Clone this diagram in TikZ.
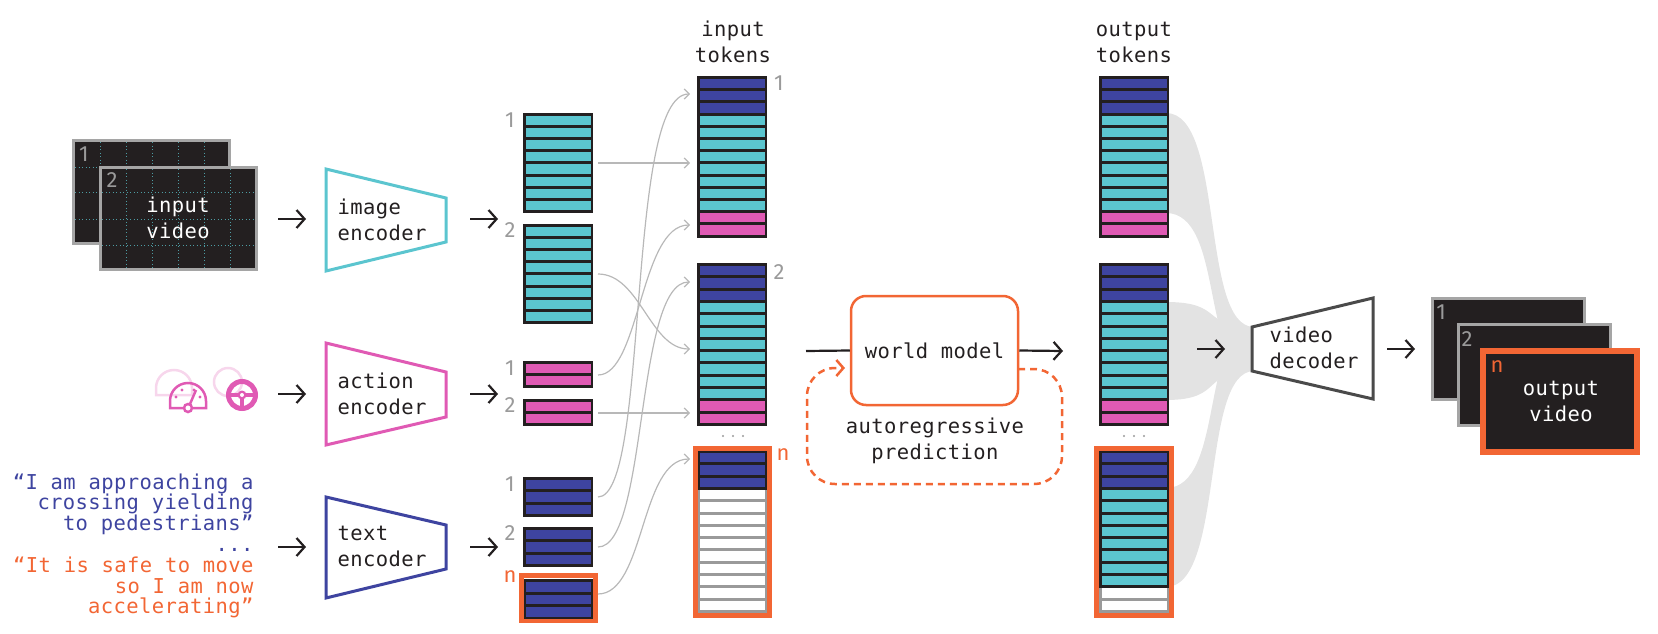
\documentclass[tikz,border=0pt]{standalone}
\usepackage{fontspec}
\usetikzlibrary{arrows.meta}
\newfontfamily\mono{DejaVu Sans Mono}[LetterSpace=2]
\newfontfamily\numf{Fira Sans}
\definecolor{dk}{HTML}{231F20}
\definecolor{tb}{HTML}{3E44A0}
\definecolor{tc}{HTML}{5BC5CF}
\definecolor{tp}{HTML}{E05AB4}
\definecolor{tw}{HTML}{FFFFFF}
\definecolor{og}{HTML}{F26634}
\definecolor{lg}{HTML}{9A9A9A}
\definecolor{rib}{HTML}{E3E3E3}
\definecolor{fr}{HTML}{A5A5A5}
\definecolor{dec}{HTML}{4A4A4A}
\newcommand\tokcol[6]{%
  \foreach \cc [count=\ii from 0] in {#6}{%
    \fill[#5] (#1,{#2+\ii*#4-1.5}) rectangle ({#1+#3},{#2+(\ii+1)*#4+1.5});
    \fill[\cc] ({#1+2.5},{#2+\ii*#4+1.5}) rectangle ({#1+#3-2.5},{#2+(\ii+1)*#4-1.5});
  }}
\begin{document}
\begin{tikzpicture}[x=1pt,y=-1pt,
  lab/.style={font=\mono\fontsize{20.5}{26}\selectfont, text=dk},
  num/.style={font=\numf\fontsize{22}{24}\selectfont, text=lg},
  blk/.style={-{Straight Barb[length=8pt,width=18pt]}, line width=2.2pt, draw=dk},
  gcon/.style={-{Straight Barb[length=5pt,width=10pt]}, line width=1.2pt, draw=lg!70},
  enc/.style={line width=3pt, fill=white, line join=miter},
  frm/.style={fill=dk, draw=fr, line width=3pt},
  grid/.style={tc!75!dk, dash pattern=on 1pt off 2.5pt, line width=1pt}]
\useasboundingbox (0,0) rectangle (1658,634);

% ---------- input video
\draw[frm] (73.5,140.5) rectangle (229.5,243.5);
\begin{scope}
\clip (75,142) rectangle (228,242);
\foreach \x in {100,126,152,178,204} \draw[grid] (\x,142) -- (\x,242);
\foreach \y in {167,192,219} \draw[grid] (75,\y) -- (228,\y);
\end{scope}
\node[num, text=lg] (v1) at (84,154) {1};
\draw[frm] (100.5,167.5) rectangle (256.5,269.5);
\begin{scope}
\clip (102,169) rectangle (255,268);
\foreach \x in {126,152,178,204,230} \draw[grid] (\x,169) -- (\x,268);
\foreach \y in {192,219,245} \draw[grid] (102,\y) -- (255,\y);
\end{scope}
\node[num] (v2) at (112,180) {2};
\node[lab, text=white, align=center] (iv) at (178,218) {input\\video};

% ---------- icons
\begin{scope}[tp!25, line width=2.5pt, shift={(-14,-13)}]
\draw (170,408) -- (170,401) arc(180:360:18) -- (206,408) -- cycle;
\draw (242,395) circle (14);
\end{scope}
\begin{scope}[tp, line width=2.5pt]
\draw (183,408) -- (170,408) -- (170,401) arc(180:360:18) -- (206,408) -- (193,408);
\draw (188,408) circle (4);
\draw (190,404) -- (196,390);
\fill (176,397) circle (1.6); \fill (182,390) circle (1.6); \fill (200,397) circle (1.6); \fill (194,390) circle (1.6);
\draw[line width=5pt] (242,395) circle (13.5);
\fill (242,395) circle (4.5);
\draw[line width=3.5pt] (229,395) -- (255,395);
\draw[line width=3.5pt] (242,395) -- (242,408);
\end{scope}
\fill[white] (242,395) circle (2);

% ---------- quote text
\node[font=\mono\fontsize{20.5}{20.8}\selectfont, align=right, anchor=east] (qt) at (257,546)
 {\textcolor{tb}{“I am approaching a}\\\textcolor{tb}{crossing yielding}\\\textcolor{tb}{to pedestrians”}\\\textcolor{tb}{...}\\
  \textcolor{og}{“It is safe to move}\\\textcolor{og}{so I am now}\\\textcolor{og}{accelerating”}};

% ---------- encoders
\draw[enc, draw=tc] (326,169) -- (446,198) -- (446,242) -- (326,271) -- cycle;
\node[lab, anchor=west, align=left] (ie) at (334,220) {image\\encoder};
\draw[enc, draw=tp] (326,343) -- (446,372) -- (446,417) -- (326,445) -- cycle;
\node[lab, anchor=west, align=left] (ae) at (334,394) {action\\encoder};
\draw[enc, draw=tb] (326,497) -- (446,525) -- (446,569) -- (326,598) -- cycle;
\node[lab, anchor=west, align=left] (te) at (334,546) {text\\encoder};

\coordinate (a1s) at (278,219); \coordinate (a1e) at (306,219);
\coordinate (a2s) at (278,394); \coordinate (a2e) at (306,394);
\coordinate (a3s) at (278,547); \coordinate (a3e) at (306,547);
\coordinate (b1s) at (470,219); \coordinate (b1e) at (498,219);
\coordinate (b2s) at (470,394); \coordinate (b2e) at (498,394);
\coordinate (b3s) at (470,547); \coordinate (b3e) at (498,547);
\foreach \s/\e in {a1s/a1e,a2s/a2e,a3s/a3e,b1s/b1e,b2s/b2e,b3s/b3e} \draw[blk] (\s) -- (\e);

% ---------- encoded tokens
\tokcol{523}{114.5}{70}{12.1}{dk}{tc,tc,tc,tc,tc,tc,tc,tc}
\tokcol{523}{225.5}{70}{12.1}{dk}{tc,tc,tc,tc,tc,tc,tc,tc}
\tokcol{523}{362.5}{70}{12}{dk}{tp,tp}
\tokcol{523}{400.5}{70}{12}{dk}{tp,tp}
\tokcol{523}{478.5}{70}{12.3}{dk}{tb,tb,tb}
\tokcol{523}{528.5}{70}{12.3}{dk}{tb,tb,tb}
\tokcol{523}{580.5}{70}{12.5}{dk}{tb,tb,tb}
\draw[og, line width=4.5pt] (521.5,575.5) rectangle (595.5,621);
\node[num] at (510,120) {1};
\node[num] at (510,230) {2};
\node[num] at (510,368) {1};
\node[num] at (510,405) {2};
\node[num] at (510,484) {1};
\node[num] at (510,533) {2};
\node[num, text=og] at (510,577) {n};

% ---------- input tokens
\node[lab, align=center] (it) at (733,42) {input\\tokens};
\tokcol{697}{77.5}{70}{12.2}{dk}{tb,tb,tb,tc,tc,tc,tc,tc,tc,tc,tc,tp,tp}
\tokcol{697}{264.5}{70}{12.3}{dk}{tb,tb,tb,tc,tc,tc,tc,tc,tc,tc,tc,tp,tp}
\tokcol{697}{451.5}{70}{12.3}{lg}{tb,tb,tb,tw,tw,tw,tw,tw,tw,tw,tw,tw,tw}
\tokcol{697}{451.5}{70}{12.3}{dk}{tb,tb,tb}
\draw[og, line width=4.5pt] (695.5,448.5) rectangle (769.5,615.5);
\node[num] at (779,83) {1};
\node[num] at (779,272) {2};
\node[num, text=og] at (783,455) {n};
\foreach \x in {723,733,743} \fill[lg] (\x,436) circle (1.1);

% gray connectors
\coordinate (g1s) at (598,163); \coordinate (g1e) at (690,163);
\coordinate (g2s) at (598,274); \coordinate (g2e) at (690,349);
\coordinate (g3s) at (598,375); \coordinate (g3e) at (690,225);
\coordinate (g4s) at (598,413); \coordinate (g4e) at (690,413);
\coordinate (g5s) at (598,497); \coordinate (g5e) at (690,94);
\coordinate (g6s) at (598,547); \coordinate (g6e) at (690,282);
\coordinate (g7s) at (598,594); \coordinate (g7e) at (690,459);
\draw[gcon] (g1s) -- (g1e);
\draw[gcon] (g2s) .. controls (640,274) and (650,349) .. (g2e);
\draw[gcon] (g3s) .. controls (640,375) and (640,225) .. (g3e);
\draw[gcon] (g4s) -- (g4e);
\draw[gcon] (g5s) .. controls (650,497) and (625,94) .. (g5e);
\draw[gcon] (g6s) .. controls (648,547) and (635,282) .. (g6e);
\draw[gcon] (g7s) .. controls (645,594) and (640,459) .. (g7e);

% ---------- world model
\node[lab, draw=og, line width=2.5pt, rounded corners=15pt, minimum width=167pt, minimum height=109pt] (wm) at (934.5,350.5) {world model};
\coordinate (wl) at (806,351);
\draw[line width=2.2pt, dk] (wl) -- (wm.west);
\coordinate (wr) at (1063,351);
\draw[blk] (wm.east) -- (wr);
\draw[og, line width=2.5pt, dash pattern=on 7pt off 5pt, rounded corners=28pt, -{Straight Barb[length=7pt,width=16pt]}]
  (1018,369) -| (1062,484) -| (807,368) -- (845,368);
\node[lab, align=center] (ar) at (935,441) {autoregressive\\prediction};

% ---------- ribbons
\foreach \t/\b in {113/213,302/400,488/587}
  \fill[rib] (1166,\t) .. controls (1225,\t) and (1200,327) .. (1254,327) -- (1254,371)
     .. controls (1200,371) and (1225,\b) .. (1166,\b) -- cycle;

% ---------- output tokens
\node[lab, align=center] (ot) at (1134,42) {output\\tokens};
\tokcol{1099}{77.5}{70}{12.2}{dk}{tb,tb,tb,tc,tc,tc,tc,tc,tc,tc,tc,tp,tp}
\tokcol{1099}{264.5}{70}{12.3}{dk}{tb,tb,tb,tc,tc,tc,tc,tc,tc,tc,tc,tp,tp}
\tokcol{1099}{451.5}{70}{12.3}{lg}{tb,tb,tb,tc,tc,tc,tc,tc,tc,tc,tc,tw,tw}
\tokcol{1099}{451.5}{70}{12.3}{dk}{tb,tb,tb,tc,tc,tc,tc,tc,tc,tc,tc}
\draw[og, line width=4.5pt] (1096.5,448.5) rectangle (1171.5,615.5);
\foreach \x in {1124,1134,1144} \fill[lg] (\x,436) circle (1.1);

% ---------- decoder
\coordinate (d1s) at (1197,349); \coordinate (d1e) at (1225,349);
\draw[blk] (d1s) -- (d1e);
\draw[enc, draw=dec] (1252,327) -- (1373,298) -- (1373,399) -- (1252,371) -- cycle;
\node[lab, anchor=west, align=left] (vd) at (1266,348) {video\\decoder};
\coordinate (d2s) at (1387,349); \coordinate (d2e) at (1415,349);
\draw[blk] (d2s) -- (d2e);

% ---------- output video
\draw[frm] (1432.5,298.5) rectangle (1584.5,399.5);
\node[num] (o1) at (1441,312) {1};
\draw[frm] (1458.5,324.5) rectangle (1610.5,425.5);
\node[num] (o2) at (1467,339) {2};
\draw[fill=dk, draw=og, line width=6pt] (1483,351) rectangle (1637,452);
\node[num, text=og] (on) at (1497,367) {n};
\node[lab, text=white, align=center] (ov) at (1561,401) {output\\video};
\end{tikzpicture}
\end{document}
